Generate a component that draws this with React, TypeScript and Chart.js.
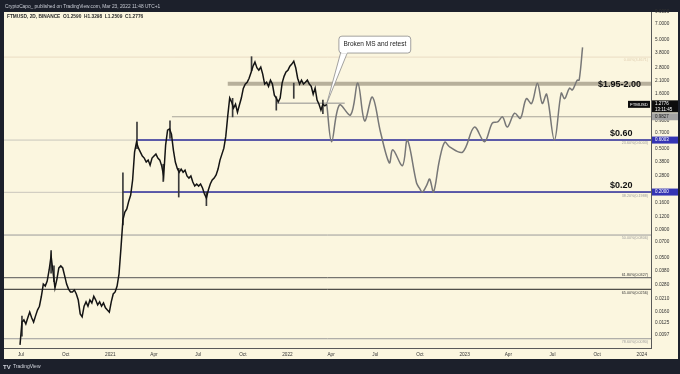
import React, { useEffect, useRef } from "react";
import { Chart, registerables } from "chart.js";

Chart.register(...registerables);

const FONT = "'Liberation Sans', Arial, sans-serif";
const DARK = "#1c202b";
const CREAM = "#fbf6df";

// ---- Price history (FTMUSD, 2D Binance) : closes sampled every 4 days, days since 2020-01-01
const priceStartDay = 180; // 2020-06-29
const priceStepDays = 4;
const priceCloses = [
  0.0079, 0.0128, 0.0134, 0.0123, 0.014, 0.0158, 0.014, 0.0128, 0.0146, 0.0165,
  0.0179, 0.0221, 0.0286, 0.0274, 0.0305, 0.0385, 0.0519, 0.0369, 0.0263, 0.0318,
  0.0402, 0.042, 0.0402, 0.034, 0.0286, 0.0257, 0.0242, 0.0242, 0.0252, 0.0232,
  0.0204, 0.0152, 0.0143, 0.0179, 0.0196, 0.0179, 0.0204, 0.0192, 0.0221, 0.0204,
  0.0184, 0.0196, 0.0179, 0.0192, 0.0173, 0.0165, 0.0158, 0.0196, 0.0232, 0.0242,
  0.0274, 0.0355, 0.0614, 0.111, 0.131, 0.14, 0.165, 0.188, 0.258, 0.465,
  0.574, 0.506, 0.465, 0.428, 0.41, 0.377, 0.393, 0.353, 0.41, 0.428,
  0.446, 0.41, 0.393, 0.346, 0.281, 0.54, 0.74, 0.76, 0.68, 0.486,
  0.377, 0.33, 0.304, 0.325, 0.304, 0.318, 0.281, 0.269, 0.281, 0.247,
  0.227, 0.237, 0.227, 0.237, 0.218, 0.192, 0.176, 0.209, 0.237, 0.258,
  0.269, 0.287, 0.325, 0.393, 0.446, 0.506, 0.652, 1.0, 1.46, 1.34,
  1.18, 1.28, 1.08, 1.26, 1.46, 1.79, 1.96, 2.04, 2.22, 2.51,
  2.86, 3.12, 2.77, 2.63, 2.81, 2.42, 1.96, 2.04, 1.87, 2.13,
  1.96, 1.55, 1.46, 1.34, 1.46, 2.0, 2.31, 2.53, 2.63, 2.86,
  2.99, 3.18, 2.77, 2.22, 1.96, 2.13, 1.96, 2.04, 2.13, 1.96,
  1.87, 1.58, 1.8, 1.4, 1.28, 1.13, 1.28, 1.24, 1.2776,
];

// ---- Notable candle wicks (day, low, high)
const wickDays = [184, 244, 250, 392, 421, 475, 489, 507, 564, 618, 657, 708, 744, 804];
const wickLows = [0.0095, 0.036, 0.03, 0.1, 0.5, 0.25, 0.62, 0.18, 0.15, 0.98, 2.6, 1.13, 1.45, 1.05];
const wickHighs = [0.0145, 0.058, 0.042, 0.3, 0.88, 0.36, 0.9, 0.33, 0.2, 1.45, 3.5, 1.5, 2.0, 1.4];

// ---- Projected path (drawn idea)
const projDays = [
  812, 822, 838, 861, 876, 890, 906, 923, 941, 948,
  968, 978, 997, 1003, 1009, 1018, 1024, 1032, 1044, 1055,
  1065, 1092, 1116, 1137, 1153, 1164, 1174, 1184, 1199, 1211,
  1223, 1234, 1246, 1256, 1265, 1281, 1295, 1302, 1312, 1318,
  1328, 1332, 1339,
];
const projPrices = [
  1.2776, 0.58, 1.26, 1.02, 2.0, 0.9, 1.49, 0.7, 0.37, 0.49,
  0.35, 0.6, 0.242, 0.217, 0.2, 0.232, 0.263, 0.2, 0.39, 0.575,
  0.52, 0.466, 0.79, 0.58, 0.86, 0.88, 0.98, 0.79, 1.06, 0.95,
  1.44, 1.3, 2.0, 1.3, 1.58, 0.6, 1.62, 1.44, 1.8, 1.73,
  2.13, 2.13, 4.26,
];

// ---- Axes
const xTickDays = [182, 274, 366, 456, 547, 639, 731, 821, 912, 1004, 1096, 1186, 1277, 1369, 1461];
const xTickLabels = ["Jul", "Oct", "2021", "Apr", "Jul", "Oct", "2022", "Apr", "Jul", "Oct", "2023", "Apr", "Jul", "Oct", "2024"];
const yTickValues = [9, 7, 5, 3.8, 2.8, 2.1, 1.6, 0.9, 0.7, 0.5, 0.38, 0.28, 0.16, 0.12, 0.09, 0.07, 0.05, 0.038, 0.028, 0.021, 0.016, 0.0125, 0.0097];

// ---- Fibonacci retracement levels
const fibValues = [3.4671, 0.6003, 0.1988, 0.0806, 0.0327, 0.0256, 0.009];
const fibLabels = ["0.00%(3.4671)", "23.60%(0.6003)", "38.20%(0.1988)", "50.00%(0.0806)", "61.80%(0.0327)", "65.00%(0.0256)", "78.60%(0.0090)"];
const fibColors = ["#eadcc4", "#c9c6bc", "#c9c6bc", "#9a9a9a", "#555555", "#222222", "#9a9a9a"];

// ---- Horizontal levels (value, start day)
const bluePrices = [0.6003, 0.2];
const blueStartDays = [421, 392];
const supportPrice = 0.9827;
const supportStartDay = 493;
const bandPrice = 1.975;
const bandStartDay = 608;
const msPrice = 1.31;
const msStartDay = 709;
const msEndDay = 849;

const zoneLabels = ["$1.95-2.00", "$0.60", "$0.20"];
const zonePrices = [1.975, 0.6003, 0.2];

const headerText = "CryptoCapo_ published on TradingView.com, Mar 23, 2022 11:48 UTC+1";
const infoText = "FTMUSD, 2D, BINANCE  O1.2590  H1.3298  L1.2509  C1.2776";
const lastPrice = 1.2776;
const calloutText = "Broken MS and retest";

const X_MIN = 147;
const X_MAX = 1480;

export default function App() {
  const ref = useRef<HTMLCanvasElement>(null);

  useEffect(() => {
    const canvas = ref.current!;
    const priceData = priceCloses.map((v, i) => ({ x: priceStartDay + i * priceStepDays, y: v }));
    const projData = projDays.map((d, i) => ({ x: d, y: projPrices[i] }));
    const wickData = wickDays.map((d, i) => ({ x: d, y: [wickLows[i], wickHighs[i]] }));
    const seg = (from: number, to: number, v: number, color: string, width: number) => ({
      type: "line" as const,
      data: [{ x: from, y: v }, { x: to, y: v }],
      borderColor: color,
      borderWidth: width,
      pointRadius: 0,
      tension: 0,
    });

    const datasets: any[] = [
      { type: "line", data: priceData, borderColor: "#141414", borderWidth: 1.5, pointRadius: 0, tension: 0 },
      { type: "bar", data: wickData, backgroundColor: "#3a3a3a", borderWidth: 0, barThickness: 1, grouped: false },
      { type: "line", data: projData, borderColor: "#777777", borderWidth: 1.5, pointRadius: 0, tension: 0.35 },
      seg(msStartDay, msEndDay, msPrice, "#8d8d8d", 1),
      seg(bandStartDay, X_MAX, bandPrice, "rgba(160,152,132,0.75)", 4),
      seg(supportStartDay, X_MAX, supportPrice, "#a9a49a", 1),
      ...bluePrices.map((p, i) => seg(blueStartDays[i], X_MAX, p, "#2f2f9c", 1.4)),
      ...fibValues.map((p, i) => seg(X_MIN, X_MAX, p, fibColors[i], 1)),
    ];

    const decor = {
      id: "decor",
      beforeDraw(chart: any) {
        const { ctx, width, height } = chart;
        ctx.save();
        ctx.fillStyle = DARK;
        ctx.fillRect(0, 0, width, height);
        ctx.fillStyle = CREAM;
        ctx.fillRect(4, 12, width - 6, 347);
        ctx.fillStyle = "#c8cbd4";
        ctx.font = `4.8px ${FONT}`;
        ctx.textBaseline = "middle";
        ctx.textAlign = "left";
        ctx.fillText(headerText, 5, 6.5);
        ctx.fillStyle = "#d1d4dc";
        ctx.font = `bold 6px ${FONT}`;
        ctx.fillText("TV", 3, 367);
        ctx.font = `5px ${FONT}`;
        ctx.fillText("TradingView", 13, 367);
        ctx.restore();
      },
      afterDraw(chart: any) {
        const { ctx, chartArea } = chart;
        const xs = chart.scales.x;
        const ys = chart.scales.y;
        ctx.save();
        ctx.fillStyle = "#2a2a2a";
        ctx.font = `bold 4.8px ${FONT}`;
        ctx.textAlign = "left";
        ctx.textBaseline = "middle";
        ctx.fillText(infoText, chartArea.left + 3, chartArea.top + 5);

        ctx.font = `3.7px ${FONT}`;
        ctx.textAlign = "right";
        fibValues.forEach((v, i) => {
          const y = ys.getPixelForValue(v);
          ctx.fillStyle = i === 0 ? "#e0cfb2" : i === 4 || i === 5 ? "#333" : "#9c9c9c";
          if (i === 4) {
            ctx.textBaseline = "bottom";
            ctx.fillText(fibLabels[i], chartArea.right - 3, y - 1);
          } else {
            ctx.textBaseline = "top";
            ctx.fillText(fibLabels[i], chartArea.right - 3, y + 1.5);
          }
        });

        ctx.fillStyle = "#111";
        ctx.font = `bold 9px ${FONT}`;
        ctx.textAlign = "left";
        zoneLabels.forEach((t, i) => {
          const y = ys.getPixelForValue(zonePrices[i]);
          const xx = i === 0 ? chartArea.right - 53 : chartArea.right - 41;
          ctx.textBaseline = i === 0 ? "middle" : "bottom";
          ctx.fillText(t, xx, i === 0 ? y + 1 : y - 2);
        });

        const tipX = xs.getPixelForValue(812);
        const tipY = ys.getPixelForValue(1.3);
        const bx0 = xs.getPixelForValue(837);
        const bx1 = xs.getPixelForValue(985);
        const by0 = ys.getPixelForValue(5.4);
        const by1 = ys.getPixelForValue(3.78);
        const t0 = xs.getPixelForValue(841);
        const t1 = xs.getPixelForValue(855);
        ctx.fillStyle = "#ffffff";
        ctx.strokeStyle = "#8c8c8c";
        ctx.lineWidth = 0.8;
        ctx.beginPath();
        ctx.moveTo(t0, by1 - 1);
        ctx.lineTo(tipX, tipY);
        ctx.lineTo(t1, by1 - 1);
        ctx.closePath();
        ctx.fill();
        ctx.stroke();
        ctx.beginPath();
        (ctx as any).roundRect(bx0, by0, bx1 - bx0, by1 - by0, 3);
        ctx.fill();
        ctx.stroke();
        ctx.fillStyle = "#fff";
        ctx.fillRect(t0 + 0.5, by1 - 1.5, t1 - t0 - 1, 2);
        ctx.fillStyle = "#222";
        ctx.font = `6.5px ${FONT}`;
        ctx.textAlign = "center";
        ctx.textBaseline = "middle";
        ctx.fillText(calloutText, (bx0 + bx1) / 2, (by0 + by1) / 2);

        const ax0 = chartArea.right + 1;
        const aw = chart.width - 2 - ax0;
        ctx.font = `4.5px ${FONT}`;
        ctx.textAlign = "left";
        ctx.textBaseline = "middle";
        const box = (v: number, bg: string, fg: string) => {
          const y = ys.getPixelForValue(v);
          ctx.fillStyle = bg;
          ctx.fillRect(ax0, y - 3.5, aw, 7);
          ctx.fillStyle = fg;
          ctx.fillText(v.toFixed(4), ax0 + 3, y);
        };
        box(0.9827, "#a3a3a3", "#222");
        box(0.6003, "#3434b4", "#fff");
        box(0.2, "#3434b4", "#fff");
        const ly = ys.getPixelForValue(lastPrice);
        ctx.fillStyle = "#0d0d0d";
        ctx.fillRect(ax0, ly - 4, aw, 12);
        ctx.fillStyle = "#fff";
        ctx.fillText(lastPrice.toFixed(4), ax0 + 3, ly - 0.5);
        ctx.fillText("13:11:45", ax0 + 3, ly + 5);
        ctx.fillStyle = "#0d0d0d";
        ctx.fillRect(chartArea.right - 23, ly - 3.5, 22, 7);
        ctx.fillStyle = "#fff";
        ctx.font = `4.3px ${FONT}`;
        ctx.textAlign = "center";
        ctx.fillText("FTMUSD", chartArea.right - 12, ly);
        ctx.restore();
      },
    };

    const chart = new Chart(canvas, {
      type: "line",
      data: { datasets },
      options: {
        animation: false,
        responsive: false,
        devicePixelRatio: 1,
        layout: { padding: { top: 12, left: 4, right: 2, bottom: 15 } },
        plugins: { legend: { display: false }, tooltip: { enabled: false } },
        scales: {
          x: {
            type: "linear",
            min: X_MIN,
            max: X_MAX,
            offset: false,
            grid: { display: false, drawTicks: false, offset: false },
            border: { display: true, color: "#5a5a5a", width: 1 },
            ticks: {
              font: { size: 4.7, family: FONT },
              color: "#333",
              padding: 4,
              autoSkip: false,
              maxRotation: 0,
              callback: (v: any) => {
                const i = xTickDays.indexOf(Number(v));
                return i >= 0 ? xTickLabels[i] : "";
              },
            },
            afterBuildTicks: (s: any) => {
              s.ticks = xTickDays.map((v) => ({ value: v }));
            },
            afterFit: (s: any) => {
              s.height = 11;
              s.paddingLeft = 0;
              s.paddingRight = 0;
            },
          },
          y: {
            type: "logarithmic",
            position: "right",
            min: 0.0074,
            max: 9,
            grid: { display: false, drawTicks: false },
            border: { display: true, color: "#5a5a5a", width: 1 },
            ticks: {
              font: { size: 4.7, family: FONT },
              color: "#333",
              padding: 4,
              autoSkip: false,
              callback: (v: any) => Number(v).toFixed(4),
            },
            afterBuildTicks: (s: any) => {
              s.ticks = yTickValues.map((v) => ({ value: v }));
            },
            afterFit: (s: any) => {
              s.width = 27;
              s.paddingTop = 0;
              s.paddingBottom = 0;
            },
          },
        },
      },
      plugins: [decor],
    } as any);

    return () => chart.destroy();
  }, []);

  return (
    <div style={{ position: "fixed", left: 0, top: 0, width: 680, height: 374, background: DARK }}>
      <canvas ref={ref} width={680} height={374} style={{ display: "block", width: 680, height: 374 }} />
    </div>
  );
}
